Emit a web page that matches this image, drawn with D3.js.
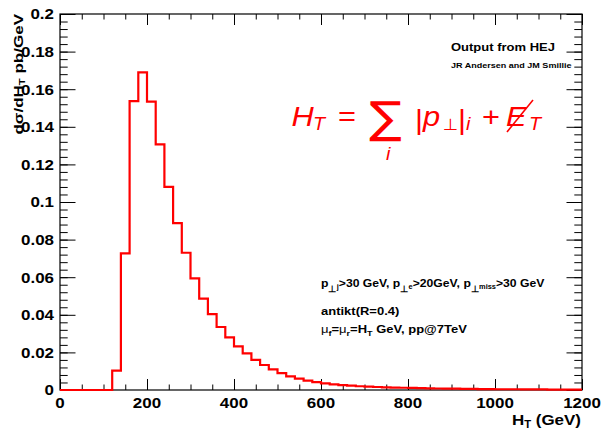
<!DOCTYPE html>
<html>
<head>
<meta charset="utf-8">
<script src="https://cdn.jsdelivr.net/npm/d3@7"></script>
<style>
  body { margin: 0; background: #fff; }
  text { font-family: "Liberation Sans", Arial, sans-serif; }
</style>
</head>
<body>
<div id="chart"></div>
<script>
// H_T distribution, 20 GeV bins from 0 to 1200 GeV
const binWidth = 20;
const binEdges = d3.range(0, 1200, binWidth);
const xsec = [
  0, 0, 0, 0, 0, 0,
  0.0103, 0.0727, 0.1537, 0.1690, 0.1534, 0.1307, 0.1080, 0.0888, 0.0730, 0.0594,
  0.0486, 0.0404, 0.0335, 0.0280, 0.0232, 0.0195, 0.0160, 0.0133, 0.0110, 0.0090,
  0.0073, 0.0060, 0.0050, 0.0042, 0.0035, 0.0030, 0.0026, 0.0023, 0.0020, 0.0018,
  0.0016, 0.0014, 0.0013, 0.0012, 0.0011, 0.0010, 0.0009, 0.0008, 0.0007, 0.0007,
  0.0006, 0.0006, 0.0005, 0.0005, 0.0004, 0.0004, 0.0004, 0.0003, 0.0003, 0.0003,
  0.0002, 0.0002, 0.0002, 0.0002
];

const xTicks = [0, 200, 400, 600, 800, 1000, 1200];
const xTickLabels = ["0", "200", "400", "600", "800", "1000", "1200"];
const yTicks = [0, 0.02, 0.04, 0.06, 0.08, 0.1, 0.12, 0.14, 0.16, 0.18, 0.2];
const yTickLabels = ["0", "0.02", "0.04", "0.06", "0.08", "0.1", "0.12", "0.14", "0.16", "0.18", "0.2"];

const width = 603;
const height = 429;
const margin = { top: 14, right: 21, bottom: 39, left: 60 };
const x0 = margin.left, x1 = width - margin.right;
const y0 = height - margin.bottom, y1 = margin.top;

// text in the original is a little wider than the font
const SX = 1.13;

const svg = d3.select('#chart')
  .append('svg')
  .attr('width', width)
  .attr('height', height);

const x = d3.scaleLinear().domain([0, 1200]).range([x0, x1]);
const y = d3.scaleLinear().domain([0, 0.2]).range([y0, y1]);

// ticks, ROOT style (inside, on all four sides)
function tickSet(axisFn, scale, values, size, tx, ty) {
  const g = svg.append('g').attr('transform', `translate(${tx},${ty})`);
  g.call(axisFn(scale).tickValues(values).tickSize(size).tickFormat(''));
  g.select('.domain').remove();
  g.selectAll('line').attr('stroke', '#000').attr('stroke-width', 1);
}
const xMajor = 11, xMinor = 5.5, yMajor = 15.5, yMinor = 7.7;
const xMinorTicks = d3.range(0, 1201, 50);
const yMinorTicks = d3.range(0, 51).map(i => i * 0.004);

tickSet(d3.axisBottom, x, xTicks, -xMajor, 0, y0);
tickSet(d3.axisBottom, x, xMinorTicks, -xMinor, 0, y0);
tickSet(d3.axisTop, x, xTicks, -xMajor, 0, y1);
tickSet(d3.axisTop, x, xMinorTicks, -xMinor, 0, y1);
tickSet(d3.axisLeft, y, yTicks, -yMajor, x0, 0);
tickSet(d3.axisLeft, y, yMinorTicks, -yMinor, x0, 0);
tickSet(d3.axisRight, y, yTicks, -yMajor, x1, 0);
tickSet(d3.axisRight, y, yMinorTicks, -yMinor, x1, 0);

// frame
svg.append('rect')
  .attr('x', x0).attr('y', y1)
  .attr('width', x1 - x0).attr('height', y0 - y1)
  .attr('fill', 'none').attr('stroke', '#000').attr('stroke-width', 1.2);

// helper for stretched text
function label(tx, ty, opts) {
  const t = svg.append('text')
    .attr('transform', `translate(${tx},${ty})${opts.rotate ? ' rotate(' + opts.rotate + ')' : ''} scale(${opts.sx || SX},1)`)
    .attr('text-anchor', opts.anchor || 'start')
    .attr('font-size', opts.size)
    .attr('font-weight', opts.weight || 'bold')
    .attr('fill', opts.fill || '#000');
  if (opts.style) t.attr('font-style', opts.style);
  if (opts.family) t.style('font-family', opts.family);
  if (opts.text !== undefined) t.text(opts.text);
  return t;
}
function sub(t, str, size, dy) {
  return t.append('tspan').attr('font-size', size).attr('dy', dy).text(str);
}

// tick labels
xTicks.forEach((v, i) => {
  label(x(v), 407.5, { text: xTickLabels[i], size: 15, anchor: 'middle' });
});
yTicks.forEach((v, i) => {
  label(54, y(v) + 5.4, { text: yTickLabels[i], size: 15, anchor: 'end' });
});

// axis titles
const xt = label(581, 425, { size: 15, anchor: 'end' });
xt.append('tspan').text('H');
sub(xt, 'T', 10, 3);
xt.append('tspan').attr('dy', -3).text(' (GeV)');

const yt = label(22.5, 14, { size: 13.5, anchor: 'end', rotate: -90, sx: 1.26 });
yt.append('tspan').text('d\u03C3/dH');
sub(yt, 'T', 9, 2);
yt.append('tspan').attr('dy', -2).text(' pb/GeV');

// histogram
const pts = binEdges.map((e, i) => [e, xsec[i]]);
pts.push([1200, xsec[xsec.length - 1]]);
const line = d3.line()
  .x(d => x(d[0]))
  .y(d => y(d[1]))
  .curve(d3.curveStepAfter);
svg.append('path')
  .attr('d', line(pts))
  .attr('fill', 'none')
  .attr('stroke', '#ff0000')
  .attr('stroke-width', 2.2);

// top right credits
label(451, 50.5, { text: 'Output from HEJ', size: 11.5 });
label(451, 68, { text: 'JR Andersen and JM Smillie', size: 8 });

// formula H_T = sum_i |p_perp|_i + Et-miss
const red = '#ff0000';
const f = (tx, ty, str, size, style, family) =>
  label(tx, ty, { text: str, size: size, weight: 'normal', style: style, fill: red, family: family, sx: 1.1 });
f(291.5, 126, 'H', 28, 'italic');
f(313, 129.5, 'T', 18, 'italic');
f(338, 126, '=', 28);
f(369, 133, '\u2211', 44, null, 'DejaVu Sans');
f(386, 160, 'i', 18, 'italic');
f(415, 129, '|', 28);
f(423, 126, 'p', 28, 'italic');
f(443, 129.5, '\u22A5', 16, null, 'DejaVu Sans');
f(458, 129, '|', 28);
f(466, 130, 'i', 18, 'italic');
f(482, 126, '+', 28);
f(506, 126, 'E', 28, 'italic');
svg.append('path')
  .attr('d', 'M507,132 L533,100')
  .attr('stroke', red).attr('stroke-width', 1.6).attr('fill', 'none');
f(529, 129.5, 'T', 18, 'italic');

// cuts
const l1 = label(321, 286.5, { size: 11.5, sx: 1.06 });
const perp = (t, up) => {
  t.append('tspan').text('p');
  sub(t, '\u22A5', 8.5, 5);
  sub(t, up, 7, -2.5);
};
perp(l1, 'j');
l1.append('tspan').attr('dy', -2.5).text('>30 GeV, ');
perp(l1, 'e');
l1.append('tspan').attr('dy', -2.5).text('>20GeV, ');
perp(l1, 'miss');
l1.append('tspan').attr('dy', -2.5).text('>30 GeV');

label(321, 315, { text: 'antikt(R=0.4)', size: 11.5 });

const l3 = label(321, 333, { size: 11.5 });
l3.append('tspan').attr('font-weight', 'normal').text('\u03BC');
sub(l3, 'f', 8, 3);
l3.append('tspan').attr('dy', -3).text('=');
l3.append('tspan').attr('font-weight', 'normal').text('\u03BC');
sub(l3, 'r', 8, 3);
l3.append('tspan').attr('dy', -3).text('=H');
sub(l3, 'T', 8, 3);
l3.append('tspan').attr('dy', -3).text(' GeV, pp@7TeV');
</script>
</body>
</html>
